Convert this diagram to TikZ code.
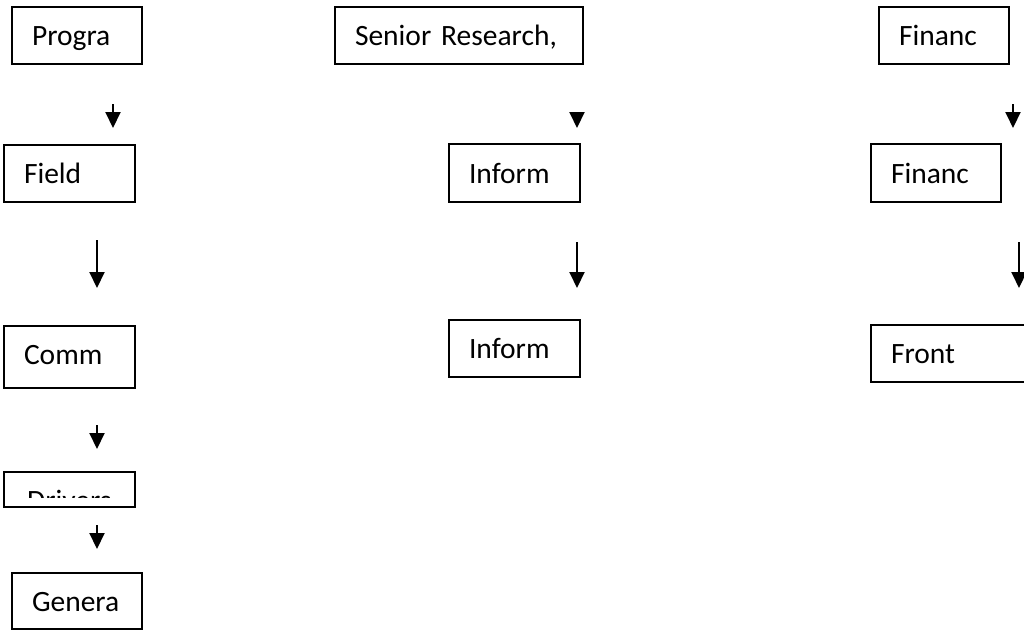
\documentclass[tikz,border=0pt]{standalone}
\usepackage{fontspec}
\setmainfont{Carlito}
\usetikzlibrary{arrows.meta}
\begin{document}
\begin{tikzpicture}[x=1pt,y=-1pt,
  box/.style={draw=black, line width=1.5pt, rectangle, inner xsep=20pt, inner ysep=0pt,
    align=left, text height=20pt, text depth=0pt,
    font=\fontsize{29.5}{35}\selectfont},
  lbl/.style={inner sep=0pt, font=\fontsize{29.5}{35}\selectfont},
  arr/.style={line width=2pt, -{Triangle[length=16pt,width=15pt]}}]
\useasboundingbox[fill=white] (0,0) rectangle (1024,630);
% column 1
\node[box, minimum width=130pt, minimum height=57pt, text width=90pt] (p1) at (77,35.5) {Progra};
\node[box, minimum width=131pt, minimum height=57pt, text width=91pt] (f1) at (69.5,173.5) {Field};
\node[box, minimum width=131pt, minimum height=62pt, text width=91pt, text height=14pt] (c1) at (69.5,357) {Comm};
\node[box, minimum width=131pt, minimum height=35pt, text width=91pt] (d1) at (69.5,489.5) {};
\begin{scope}
\clip (4,472) rectangle (135,497);
\node[lbl, anchor=base west] (d1t) at (27,510) {Drivers};
\end{scope}
\node[box, minimum width=130pt, minimum height=56pt, text width=90pt] (g1) at (77,601) {Genera};
% column 2
\node[box, minimum width=248pt, minimum height=57pt, text width=208pt] (s1) at (459,35.5) {Senior Research,};
\node[box, minimum width=131pt, minimum height=58pt, text width=91pt] (i1) at (514.5,173) {Inform};
\node[box, minimum width=131pt, minimum height=57pt, text width=91pt] (i2) at (514.5,348.5) {Inform};
% column 3
\node[box, minimum width=130pt, minimum height=57pt, text width=90pt] (n1) at (944,35.5) {Financ};
\node[box, minimum width=130pt, minimum height=58pt, text width=90pt] (n2) at (936,173) {Financ};
\node[box, minimum width=160pt, minimum height=57pt, text width=120pt] (fr) at (951,353.5) {Front};
% arrow end points
\coordinate (a1s) at (113,104); \coordinate (a1e) at (113,128);
\coordinate (a2s) at (97,240);  \coordinate (a2e) at (97,288);
\coordinate (a3s) at (97,425);  \coordinate (a3e) at (97,449);
\coordinate (a4s) at (97,525);  \coordinate (a4e) at (97,549);
\coordinate (b1s) at (577,112); \coordinate (b1e) at (577,128);
\coordinate (b2s) at (577,242); \coordinate (b2e) at (577,288);
\coordinate (c1s) at (1013,104); \coordinate (c1e) at (1013,128);
\coordinate (c2s) at (1019,242); \coordinate (c2e) at (1019,288);
\draw[arr] (a1s) -- (a1e);
\draw[arr] (a2s) -- (a2e);
\draw[arr] (a3s) -- (a3e);
\draw[arr] (a4s) -- (a4e);
\draw[arr] (b1s) -- (b1e);
\draw[arr] (b2s) -- (b2e);
\draw[arr] (c1s) -- (c1e);
\draw[arr] (c2s) -- (c2e);
\end{tikzpicture}
\end{document}
